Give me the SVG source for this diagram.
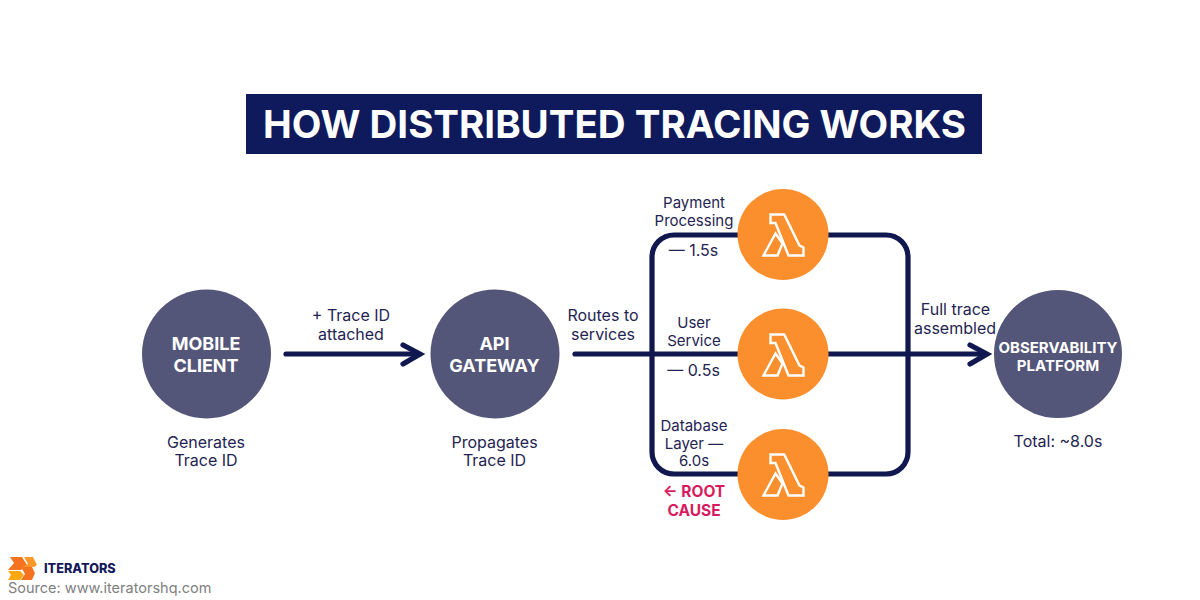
<svg xmlns="http://www.w3.org/2000/svg" width="1200" height="600" viewBox="0 0 1200 600">
<style>
text{font-family:Inter,"Liberation Sans",sans-serif;text-anchor:middle}
.l{font-size:16px;fill:#1f2452}
.s{font-size:15px;fill:#1f2452}
.t{font-size:16px;fill:#1f2452}
.n{font-size:18px;font-weight:700;fill:#fff}
.p{font-size:15px;font-weight:700;fill:#fff}
.r{font-size:15.5px;font-weight:700;fill:#d81b60}
.line{fill:none;stroke:#11174f;stroke-width:5.2;stroke-linecap:round}
.c{fill:#545679}
.o{fill:#fb8f2d}
.lam{fill:none;stroke:#fff;stroke-width:2.4;stroke-linejoin:miter}
</style>
<defs>
<g id="lambda"><path class="lam" d="M-13 -20H0.700L16 11L20 13V21H5L-8 -11.500H-13Z"/><path class="lam" d="M-8 -1L-20 21H-6L-1 9Z"/></g>
</defs>
<rect width="1200" height="600" fill="#fff"/>
<rect x="246" y="94" width="736" height="60" fill="#0f1a5c"/>
<text x="614.500" y="138" style="font-size:38.500px;font-weight:700;fill:#fff">HOW DISTRIBUTED TRACING WORKS</text>
<g id="connectors">
<path class="line" d="M286 354H418"/>
<path class="line" d="M403 345L420 354L403 364"/>
<path class="line" d="M575 354H985"/>
<path class="line" d="M970 345L987 354L970 364"/>
<rect class="line" x="652" y="235" width="256" height="239" rx="22"/>
</g>
<g id="mobile-client"><circle class="c" cx="206.500" cy="354" r="64.500"/><text class="n" x="206" y="350">MOBILE</text><text class="n" x="206" y="372">CLIENT</text><text class="l" x="206" y="448">Generates</text><text class="l" x="206" y="466">Trace ID</text></g>
<g id="api-gateway"><circle class="c" cx="495" cy="354" r="64.500"/><text class="n" x="494.500" y="350">API</text><text class="n" x="494.500" y="372">GATEWAY</text><text class="l" x="494.500" y="448">Propagates</text><text class="l" x="494.500" y="466">Trace ID</text></g>
<g id="payment"><circle class="o" cx="783" cy="234.500" r="45.500"/><use href="#lambda" x="783.500" y="234.500"/><text class="s" x="694" y="208">Payment</text><text class="s" x="694" y="226">Processing</text><text class="t" x="693.500" y="256">— 1.5s</text></g>
<g id="user"><circle class="o" cx="783" cy="354" r="45.500"/><use href="#lambda" x="783.500" y="354.500"/><text class="s" x="694" y="328">User</text><text class="s" x="694" y="346">Service</text><text class="t" x="693.500" y="376">— 0.5s</text></g>
<g id="database"><circle class="o" cx="783" cy="474.500" r="45.500"/><use href="#lambda" x="783.500" y="474.500"/><text class="s" x="694" y="431">Database</text><text class="s" x="694" y="449">Layer —</text><text class="s" x="694" y="466">6.0s</text><text class="r" x="694" y="497">← ROOT</text><text class="r" x="694" y="516">CAUSE</text></g>
<g id="observability"><circle class="c" cx="1058" cy="354" r="64"/><text class="p" x="1058" y="353">OBSERVABILITY</text><text class="p" x="1058" y="371">PLATFORM</text><text class="l" x="1058" y="447">Total: ~8.0s</text></g>
<g id="labels"><text class="l" x="351" y="321">+ Trace ID</text><text class="l" x="351" y="340">attached</text><text class="l" x="603" y="321">Routes to</text><text class="l" x="603" y="340">services</text><text class="l" x="955.500" y="315">Full trace</text><text class="l" x="955" y="334">assembled</text></g>
<g id="logo"><path fill="#f5731f" d="M10 557H22L27 565L21 570H8L14 563Z"/><path fill="#fb9a2a" d="M24 557H33L37 565L34 567H22L28 564Z"/><path fill="#ffa70f" d="M8 571H20L24 575L20 580H8L11 575Z"/><path fill="#f5731f" d="M21 567H32L35 573L32 580H21L25 574Z"/><text x="44" y="573" style="font-size:12.700px;font-weight:800;fill:#14195a;text-anchor:start">ITERATORS</text><text x="8" y="593" style="font-size:14.500px;fill:#808080;text-anchor:start">Source: www.iteratorshq.com</text></g>
</svg>
